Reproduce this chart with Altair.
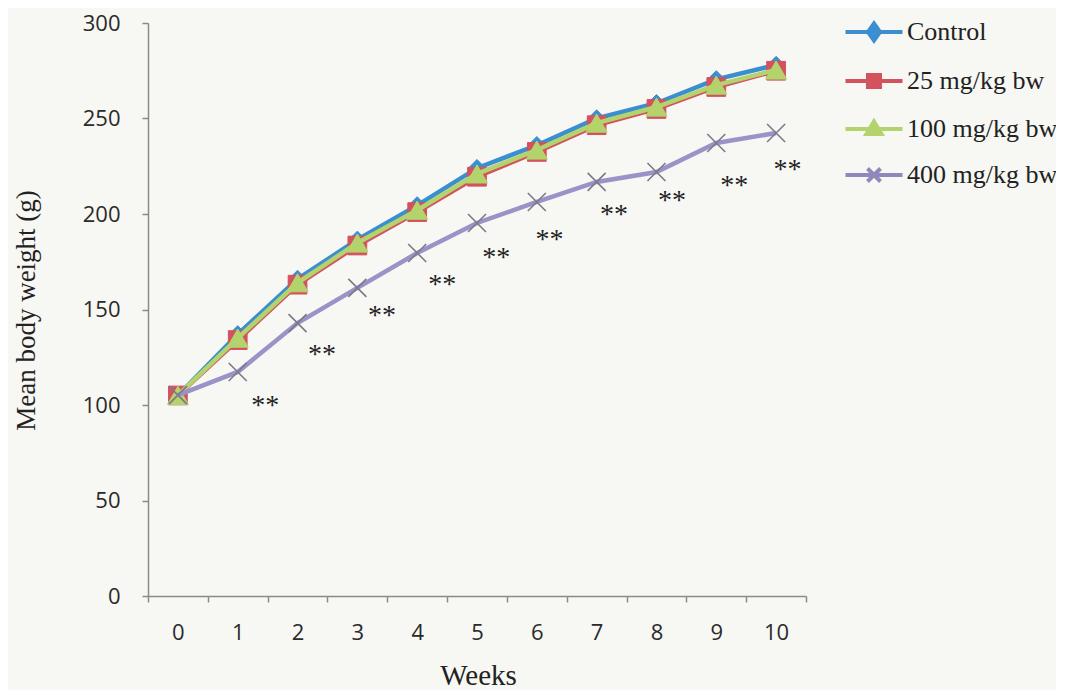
import altair as alt
import pandas as pd

# ---- data ----
weeks = [0, 1, 2, 3, 4, 5, 6, 7, 8, 9, 10]
series_names = ["Control", "25 mg/kg bw", "100 mg/kg bw", "400 mg/kg bw"]
control = [105, 137, 166, 186.5, 204.5, 224, 236, 250, 258, 270.5, 278]
mg25 = [105, 134, 163, 183.5, 201, 219.5, 232.5, 246.5, 255, 266.5, 275]
mg100 = [105, 135, 164, 184.8, 202, 221, 233.5, 247.6, 256, 267.5, 275.4]
mg400 = [105.2, 117.3, 142.9, 161.3, 179.6, 195.3, 206.3, 216.8, 222, 237.2, 242.4]

sig_weeks = [1.46, 2.41, 3.41, 4.42, 5.32, 6.21, 7.29, 8.26, 9.30, 10.19]
sig_values = [101, 127.7, 148.2, 164.4, 178.5, 188, 201, 208.4, 216.2, 224.6]
sig_label = "**"

y_ticks = [0, 50, 100, 150, 200, 250, 300]
x_ticks = [-0.5, 0.5, 1.5, 2.5, 3.5, 4.5, 5.5, 6.5, 7.5, 8.5, 9.5, 10.5]

# ---- styles ----
line_colors = ["#3b8ed0", "#d3525e", "#b3d46c", "#9b92c8"]
marker_shapes = ["diamond", "square", "triangle-up", "M-1,-1L1,1M-1,1L1,-1"]
marker_sizes = [300, 350, 440, 324]
legend_paths = [
    "M-2.85,0H2.85M0,-0.85L0.6,0L0,0.85L-0.6,0Z",
    "M-2.85,0H2.85M-0.6,-0.6H0.6V0.6H-0.6Z",
    "M-2.85,0H2.85M0,-0.75L0.75,0.5H-0.75Z",
    "M-2.85,0H2.85M-0.65,-0.65L0.65,0.65M-0.65,0.65L0.65,-0.65",
]
legend_strokes = ["#3b8ed0", "#d3525e", "#b3d46c", "#8f88bb"]

values_by_series = [control, mg25, mg100, mg400]
rows = []
for name, vals in zip(series_names, values_by_series):
    for w, v in zip(weeks, vals):
        rows.append({"series": name, "week": w, "value": v})
df = pd.DataFrame(rows)
sig_df = pd.DataFrame({"week": sig_weeks, "value": sig_values, "label": [sig_label] * len(sig_weeks)})

W, H = 658, 573
band = W / 11

x_enc = alt.X(
    "week:Q",
    scale=alt.Scale(domain=[-0.5, 10.5], nice=False, zero=False),
    axis=alt.Axis(
        values=x_ticks,
        labelExpr="datum.value > 10 ? '' : format(datum.value + 0.5, 'd')",
        labelOffset=band / 2,
        labelFlush=False,
        labelOverlap=False,
        labelPadding=20,
        tickSize=6,
        grid=False,
        title="Weeks",
        titleX=330,
        titleY=88,
        titleAlign="center",
        titleBaseline="alphabetic",
        titleFont="Liberation Serif",
        titleFontSize=29,
        titleFontWeight="normal",
        titleColor="#222222",
    ),
)
y_enc = alt.Y(
    "value:Q",
    scale=alt.Scale(domain=[0, 300], nice=False),
    axis=alt.Axis(
        values=y_ticks,
        labelPadding=22,
        tickSize=6,
        grid=False,
        title="Mean body weight (g)",
        titleX=-114,
        titleY=287,
        titleAngle=270,
        titleAlign="center",
        titleBaseline="alphabetic",
        titleFont="Liberation Serif",
        titleFontSize=27,
        titleFontWeight="normal",
        titleColor="#222222",
    ),
)

base = alt.Chart(df)
layers = []
for i, name in enumerate(series_names):
    sub = base.transform_filter(alt.datum.series == name)
    layers.append(sub.mark_line(color=line_colors[i], strokeWidth=4.5).encode(x=x_enc, y=y_enc))
    if i < 3:
        pts = sub.mark_point(shape=marker_shapes[i], size=marker_sizes[i], filled=True,
                             fill=line_colors[i], stroke=line_colors[i], strokeWidth=1, opacity=1)
    else:
        pts = sub.mark_point(shape=marker_shapes[i], size=marker_sizes[i], filled=False,
                             stroke="#7a7a88", strokeWidth=1.6, opacity=1)
    layers.append(pts.encode(x=x_enc, y=y_enc))

legend_props = dict(
    title=None,
    orient="none",
    legendX=713,
    legendY=-4,
    labelFont="Liberation Serif",
    labelFontSize=26,
    labelColor="#222222",
    labelOffset=20,
    labelLimit=400,
    rowPadding=18,
    symbolSize=400,
    symbolStrokeWidth=4,
    symbolOpacity=1,
)
legend_layer = base.mark_point(filled=True, opacity=0).encode(
    x=x_enc,
    y=y_enc,
    fill=alt.Fill("series:N", scale=alt.Scale(domain=series_names, range=line_colors),
                  legend=alt.Legend(**legend_props)),
    stroke=alt.Stroke("series:N", scale=alt.Scale(domain=series_names, range=legend_strokes),
                      legend=alt.Legend(**legend_props)),
    shape=alt.Shape("series:N", scale=alt.Scale(domain=series_names, range=legend_paths),
                    legend=alt.Legend(**legend_props)),
)
layers.append(legend_layer)

sig_layer = alt.Chart(sig_df).mark_text(
    font="Liberation Serif", fontSize=28, dy=3, color="#222222", align="center", baseline="middle"
).encode(x=x_enc, y=y_enc, text="label:N")
layers.append(sig_layer)

chart = alt.layer(*layers).properties(
    width=W,
    height=H,
    autosize=alt.AutoSizeParams(type="none"),
    padding={"left": 140, "top": 15, "right": 250, "bottom": 94},
    background="#f7f7f3",
).configure_view(stroke=None).configure_axis(
    domainColor="#8a8a8a",
    domainWidth=1.5,
    tickColor="#8a8a8a",
    tickWidth=1.5,
    labelFont="Open Sans",
    labelFontSize=22,
    labelColor="#2a2a2a",
)

chart.save("out.html", embed_options={"renderer": "svg", "actions": False})
